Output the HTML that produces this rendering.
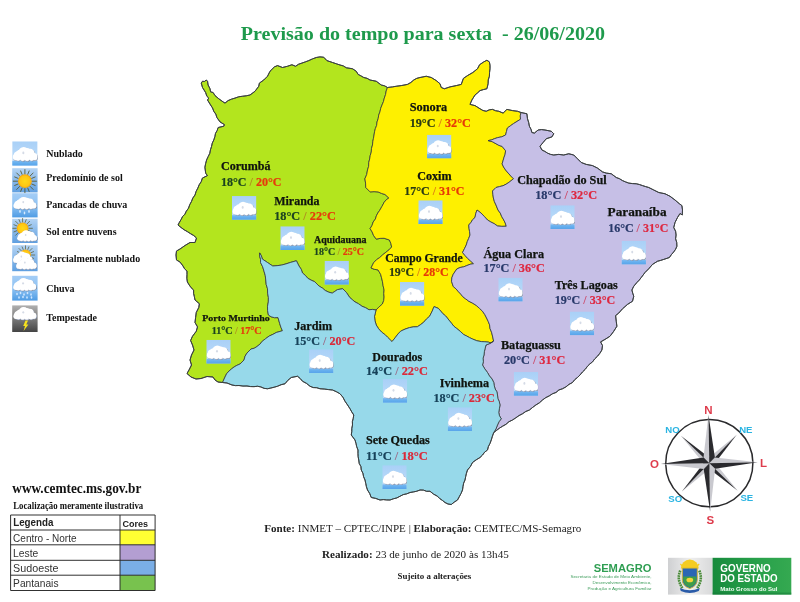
<!DOCTYPE html>
<html lang="pt-BR"><head><meta charset="utf-8"><title>Previsão do tempo</title>
<style>
html,body{margin:0;padding:0;background:#fff;}
body{width:800px;height:602px;position:relative;overflow:hidden;font-family:"Liberation Serif",serif;}
</style></head><body>
<svg width="800" height="602" viewBox="0 0 800 602" style="position:absolute;left:0;top:0;filter:blur(0.4px)">
<defs>
<linearGradient id="sky" x1="0" y1="0" x2="0" y2="1"><stop offset="0" stop-color="#a9d0f7"/><stop offset="0.8" stop-color="#bcdcf9"/><stop offset="1" stop-color="#9ccaf5"/></linearGradient>
<linearGradient id="sky2" x1="0" y1="0" x2="0" y2="1"><stop offset="0" stop-color="#b4d4f4"/><stop offset="1" stop-color="#5f9fe0"/></linearGradient>
<linearGradient id="skyr" x1="0" y1="0" x2="0" y2="1"><stop offset="0" stop-color="#a4cdf6"/><stop offset="0.5" stop-color="#8fc3f3"/><stop offset="1" stop-color="#4f9ce4"/></linearGradient>
<linearGradient id="storm" x1="0" y1="0" x2="0" y2="1"><stop offset="0" stop-color="#b0b0b0"/><stop offset="1" stop-color="#444444"/></linearGradient>
<linearGradient id="gbox" x1="0" y1="0" x2="1" y2="0"><stop offset="0" stop-color="#178a3c"/><stop offset="0.55" stop-color="#27a04a"/><stop offset="1" stop-color="#35a951"/></linearGradient>
<linearGradient id="graybox" x1="0" y1="0" x2="1" y2="0"><stop offset="0" stop-color="#cfd0d2"/><stop offset="0.5" stop-color="#eeeeee"/><stop offset="1" stop-color="#d8d9da"/></linearGradient>
<radialGradient id="sun"><stop offset="0" stop-color="#ffd91a"/><stop offset="0.75" stop-color="#ffc612"/><stop offset="1" stop-color="#f0a010"/></radialGradient>
<g id="cloudshape"><ellipse cx="12.3" cy="15" rx="10.6" ry="3.4"/><circle cx="11.2" cy="11.2" r="5.2"/><circle cx="14.2" cy="11.6" r="4.6"/><circle cx="17.4" cy="12.2" r="4.4"/><circle cx="7.6" cy="12.8" r="4.1"/><circle cx="5.4" cy="14.3" r="4.1"/><circle cx="21.2" cy="15.2" r="3.3"/><circle cx="3.5" cy="15.9" r="3"/><circle cx="5.6" cy="17" r="2.4"/><circle cx="10" cy="17.3" r="2.4"/><circle cx="14.4" cy="17.3" r="2.4"/><circle cx="18.8" cy="17" r="2.4"/><circle cx="22" cy="16.4" r="2.3"/></g>
<g id="cloud"><use href="#cloudshape" x="0.7" y="0.85" fill="#7e889c"/><use href="#cloudshape" x="0.25" y="0.5" fill="#c3ccdd"/><use href="#cloudshape" fill="#ffffff"/><ellipse cx="10.8" cy="11.8" rx="1" ry="1.3" fill="#d5dbe6"/></g>
<g id="rays" stroke="#55562c" stroke-width="0.85">
<line x1="0" y1="-7" x2="0" y2="-12"/><line x1="0" y1="7" x2="0" y2="12"/><line x1="-7" y1="0" x2="-12" y2="0"/><line x1="7" y1="0" x2="12" y2="0"/>
<line x1="4.95" y1="4.95" x2="8.5" y2="8.5"/><line x1="-4.95" y1="4.95" x2="-8.5" y2="8.5"/><line x1="4.95" y1="-4.95" x2="8.5" y2="-8.5"/><line x1="-4.95" y1="-4.95" x2="-8.5" y2="-8.5"/>
<line x1="2.7" y1="-6.5" x2="4.4" y2="-10.6"/><line x1="-2.7" y1="-6.5" x2="-4.4" y2="-10.6"/><line x1="2.7" y1="6.5" x2="4.4" y2="10.6"/><line x1="-2.7" y1="6.5" x2="-4.4" y2="10.6"/>
<line x1="6.5" y1="-2.7" x2="10.6" y2="-4.4"/><line x1="-6.5" y1="-2.7" x2="-10.6" y2="-4.4"/><line x1="6.5" y1="2.7" x2="10.6" y2="4.4"/><line x1="-6.5" y1="2.7" x2="-10.6" y2="4.4"/>
</g>
<clipPath id="icl"><rect width="24.4" height="23.8"/></clipPath><linearGradient id="band" x1="0" y1="0" x2="0" y2="1"><stop offset="0" stop-color="#7cbaf2"/><stop offset="0.5" stop-color="#64aeee"/><stop offset="1" stop-color="#58a4ea"/></linearGradient><g id="nub" clip-path="url(#icl)"><rect width="24.4" height="23.8" fill="url(#sky)"/><rect y="19.1" width="24.4" height="4.7" fill="url(#band)"/><g transform="translate(0.05,-0.36) scale(0.985,0.993)"><use href="#cloud"/></g></g>
</defs>
<rect width="800" height="602" fill="#ffffff"/>
<polygon points="222.5,382.5 218,382 215,380 213,377 207,376.5 201,378.5 196,379 191,377 187,373.5 189,370 191.5,365 190,360 191.5,355 194,350 192.5,345 190.6,340.5 192.5,336.25 196.25,331.25 197.5,326.9 195,322.5 195.6,317.5 196.25,312.5 198.75,307.5 199.4,303.75 195,300 194.36,296.69 193.58,293.4 193.6,290 191.1,287.67 189.16,284.9 187.4,282 186.83,278.35 186.98,274.67 187,271 184.59,268.83 183,266 180,262 176.5,260 176,255 176.5,251 180,249 185,245.5 190,242.5 195,242.5 196.5,238 193.74,235.56 190.57,233.7 187.5,231.7 184.11,229.78 181.01,227.46 178,225 179.51,222.16 181.17,219.42 182.59,216.54 184.93,214.2 186.25,211.25 188.48,208.26 189.72,204.73 191.48,201.49 192.85,198.03 195,195 196.08,191.44 197.8,188.17 199.2,184.76 201.25,181.63 202.4,178.1 207.4,175.6 205.7,173.2 204.9,167.3 205.64,163.59 206.6,159.95 208.2,156.5 209.77,153.36 210.43,149.91 211.5,146.6 212.27,143.14 213.81,139.95 214.9,136.6 215.51,133.39 217.13,130.54 218.2,127.5 223.75,126.25 224.4,124.6 220,121.9 216.9,117.5 215.8,114.14 213.75,111.25 212.53,107.95 210.6,105 207.5,100 208.75,98.1 206.9,96.25 205.6,92.5 202.5,87.5 201.25,83.1 202.5,81.25 204.4,81.5 206.25,80 207.5,81.25 208.1,85 210,88.75 210.6,91.9 213.1,92.5 215,95.6 218.75,98.75 223.1,101.9 225,103.1 228.1,100.6 231.48,99.17 235,98.1 238.66,96.8 242.5,96.25 246.28,95.79 250,95 255,91.25 258.75,86.25 259.4,83.1 263.75,80 267.5,76.25 270,71.25 274.4,66.9 277.5,65.6 282.5,67.5 287.5,66.25 291.9,64.75 295.6,66.25 298.54,64.25 301.9,63.1 305.34,61.89 308.75,60.6 312.44,58.91 316.25,57.5 319.98,56.89 323.75,57.25 326.9,60.6 332.5,62.5 336.25,63.76 340,65 343.33,65.91 346.25,67.75 352.5,68.75 356.25,71.25 358.1,74.4 360.96,75.89 363.75,77.5 367.05,78.31 370,80 376.25,81.25 381.25,85 384.54,85.83 387.5,87.5 386.19,90.94 385.55,94.58 384.34,98.04 383.45,101.61 382,105 380.71,108.32 379.97,111.79 378.71,115.11 378.18,118.65 377,122 376.66,125.34 375.38,128.51 374.55,131.75 374.05,135.07 373.46,138.36 372.8,141.65 372.5,145 371.49,148.44 371.29,152.06 370.23,155.5 369.66,159.03 368.75,162.5 368.64,166.34 367.5,170 366.7,174.52 364.9,178.75 365.57,183.1 365.75,187.5 370.1,191.9 374.05,191.64 378,191.9 381.43,193.4 385,194.5 388.85,198 386.13,199.83 384.1,202.4 381.98,206.35 379.75,210.25 377.87,212.95 376.37,215.84 375.4,219 373.2,221.96 372,225.47 370.1,228.6 372.13,231.96 373.6,235.6 376.25,239.1 380.14,238.38 384.1,238.25 389.4,240 390.84,243.4 391.65,247 388.99,249.87 385.9,252.25 382.74,254.77 379.75,257.5 376.39,259.79 373.6,262.75 371,268 374.4,269.31 378,269.9 380.6,274.25 381.52,277.74 382.4,281.25 383.08,285.66 384.1,290 383.77,293.5 384.1,297 383.69,300.61 382.4,304 379.08,306.87 376,310 372.52,309.42 369,309.75 365.64,307.72 362,306.25 358.65,303.84 355,301.9 352.36,299.72 349.75,297.5 346.25,292.25 342.75,288.75 337.5,289.6 332.25,293.1 328.63,292.13 325.25,290.5 322.36,288.04 319.1,286.1 314.75,281.75 311.17,280.16 307.75,278.25 305.36,275.39 302.5,273 301.21,269.27 299,266 296.4,260.75 290.25,262.5 285.91,263.91 281.5,265.1 277.14,265.66 272.75,266 267.5,262.5 262.25,259 261.38,255.75 259.6,252.9 259.65,256.12 260.56,259.27 260.5,262.5 262.63,266.72 264,271.25 265.25,275.55 265.75,280 266.19,284.46 267.5,288.75 267.61,293.16 268.4,297.5 268.34,301.91 267.5,306.25 267.59,310.66 268.4,315 271,316.75 274.44,317.7 278,317.6 279.75,323.75 280.91,327.31 282.4,330.75 276.25,332.5 272.82,334.4 269.25,336 265.72,338.58 262.25,341.25 259.91,344.16 257,346.5 254.21,348.24 251,349 247,353 245.02,356.3 244,360 240,364 236.93,365.35 234,367 231.48,368.98 229,371 226.6,373.74 225,377" fill="#b3e51e" stroke="#34393a" stroke-width="0.8" stroke-linejoin="round"/>
<polygon points="387.5,87.5 392.5,86.9 396.86,86.17 401.25,85.6 407.5,84.4 410.83,82.49 413.75,80 416.72,78.37 420,77.5 426.25,76.25 431.25,77.5 436.25,80.6 440,83.75 441.25,87.5 444.4,88.75 450,86.9 456.25,85.6 461.25,84.4 463.4,78.4 467.5,75.6 472.8,72.5 477.5,68.75 479.6,64.7 483.75,61.9 486.9,60.25 489.4,61.9 490,65.3 490,68.75 489.56,72.49 489.4,76.25 488.26,79.92 488.1,83.75 486.9,88.75 483.43,89.59 480,90.6 477.58,92.89 475,95 471.9,100 470,104.4 475,105.6 480,108.75 482.93,110.49 486.25,111.25 489.23,109.85 492.5,109.4 495.51,110.7 498.75,111.25 503.1,113.1 506.9,109.4 512.5,110.6 517.5,111.25 521,112.5 520.29,115.84 520.5,119.25 517,121.42 513.5,123.6 510.43,125.77 507.4,128 506.47,131.49 505.6,135 501.84,136.8 497.75,137.6 494.55,138.66 491.42,139.93 488.1,140.6 492.25,141.67 496,143.75 498.92,145.38 502.1,146.4 505.6,150.75 505.1,154.34 503.9,157.75 503.03,160.83 502.1,163.9 503.64,167.07 505.6,170 508.2,173.09 510.9,176.1 513.5,178.75 509.1,182.25 506.15,184.17 503,185.75 499.5,186.61 496,187.5 492.5,191 492.89,194.51 493.4,198 494.41,201.61 496,205 498,210 500.29,213.12 501.78,216.7 503.75,220 505.26,223.02 506.25,226.25 501.87,226.37 497.5,226 494.32,223.74 490.84,221.99 487.5,220 484.3,216.45 481,213 477,210 475.72,213.68 475,217.5 472.57,219.71 470.88,222.54 468.75,225 469.04,228.35 469.58,231.67 470,235 468.74,238.33 467.3,241.59 466.25,245 464.42,248.77 462.5,252.5 464.97,255.42 467.5,258.3 470.52,260.98 473.5,263.7 470.1,264.27 466.93,265.56 463.75,266.8 460.13,267.5 456.75,269 453.25,274.25 451.9,277.63 451.5,281.25 453.25,286.5 456.06,288.94 458.5,291.75 460.79,294.13 462.82,296.76 465.5,298.75 468.8,301.24 472.5,303.1 476.24,305.43 479.5,308.4 482.44,311.18 484.75,314.5 486.56,317.97 488.25,321.5 489.58,324.89 490,328.5 491.52,332.16 492.5,336 493.6,341 491,343 488.25,342.1 484.76,341.76 481.25,341.6 476.75,340.73 472.5,339 469.54,337.62 466.69,336.03 463.75,334.6 460.36,331.43 456.75,328.5 453.81,326.19 451.5,323.25 448,318.9 445.66,315.96 442.75,313.6 440.64,310.94 438.4,308.4 434,306.6 432.25,311 429.6,316.25 426.36,319.14 423.5,322.4 420.51,324.65 417.4,326.75 413.42,326.89 409.5,327.6 405.04,329.14 400.75,331.1 397.92,334 395.5,337.25 392,341.6 387.6,337.25 384.76,334.38 381.5,332 378.59,328.72 376.25,325 374.97,320.71 374.5,316.25 375.32,313.14 376,310 379.08,306.87 382.4,304 383.69,300.61 384.1,297 383.77,293.5 384.1,290 383.08,285.66 382.4,281.25 381.52,277.74 380.6,274.25 378,269.9 374.4,269.31 371,268 373.6,262.75 376.39,259.79 379.75,257.5 382.74,254.77 385.9,252.25 388.99,249.87 391.65,247 390.84,243.4 389.4,240 384.1,238.25 380.14,238.38 376.25,239.1 373.6,235.6 372.13,231.96 370.1,228.6 372,225.47 373.2,221.96 375.4,219 376.37,215.84 377.87,212.95 379.75,210.25 381.98,206.35 384.1,202.4 386.13,199.83 388.85,198 385,194.5 381.43,193.4 378,191.9 374.05,191.64 370.1,191.9 365.75,187.5 365.57,183.1 364.9,178.75 366.7,174.52 367.5,170 368.64,166.34 368.75,162.5 369.66,159.03 370.23,155.5 371.29,152.06 371.49,148.44 372.5,145 372.8,141.65 373.46,138.36 374.05,135.07 374.55,131.75 375.38,128.51 376.66,125.34 377,122 378.18,118.65 378.71,115.11 379.97,111.79 380.71,108.32 382,105 383.45,101.61 384.34,98.04 385.55,94.58 386.19,90.94" fill="#fef000" stroke="#34393a" stroke-width="0.8" stroke-linejoin="round"/>
<polygon points="521,112.5 526.9,113.75 527.5,118.75 528.67,122.44 529.4,126.25 531.01,129.23 531.9,132.5 534.4,133.1 538.1,130 541.55,129.58 545,130 551.25,131.25 553.75,133.75 551.9,136.9 546.25,138.75 543.1,142.5 540,146.25 541.9,150 544.8,151.37 547.5,153.1 550.52,154.38 553.75,155 558.75,154.4 563.75,155 568.75,153.75 573.75,155 577.5,158.75 581.25,162.5 586.25,164.4 592.5,165.6 597.5,168.1 602.5,171.9 606.25,173.1 611.25,173.75 616.25,177.5 619.53,178.74 622.5,180.6 625.59,181.93 628.75,183.1 632.49,183.58 636.25,183.75 639.41,184.54 642.5,185.6 645.61,186.6 648.75,187.5 653.75,190 658.75,192.5 665,193.75 670,196.25 675,200 679.4,203.75 681.9,205.6 682.5,210 682.25,215 680,213.5 677.5,217.5 675,222.5 673.75,227.5 675.6,231.25 676.08,235 675.6,238.75 676.73,242.42 676.9,246.25 675.61,249.23 673.75,251.9 671.42,254.58 669.4,257.5 663.75,259.4 660.65,260.4 657.5,261.25 652.5,264.4 648.75,268.75 645,272.5 641.25,277.5 639.23,280.13 636.9,282.5 633.75,286.25 631.9,290 632.73,293.15 633.75,296.25 632.5,301.25 627.5,304.4 625.03,306.61 622.5,308.75 618.75,313.1 615.6,315.6 616.25,321.25 616.9,326.25 613.75,331.25 610,336.25 605,339.4 600.6,341.9 602.5,345.6 601.9,350 599.88,353.25 597.5,356.25 594.76,358.86 592.5,361.9 589.86,363.91 587.5,366.25 585.21,369.35 582.44,372.03 580,375 577.48,377.48 574.71,379.71 572.5,382.5 569.03,384.37 565.96,386.86 562.5,388.75 558.93,389.94 556.02,392.46 552.5,393.75 549.21,395.91 545.68,397.68 542.5,400 539.4,402.81 535.84,405.01 532.5,407.5 529.44,410.01 525.74,411.51 522.5,413.75 519.01,415.59 515.79,417.85 512.5,420 508.95,421.73 505.94,424.34 502.5,426.25 499.46,428.16 496.61,430.33 493.75,432.5 495.96,428.92 497.5,425 499.06,421.69 501.25,418.75 499.5,415.83 498.75,412.5 499.39,408.75 500,405 499.28,401.64 497.85,398.45 497.5,395 496.86,391.79 495.13,388.9 494.28,385.75 493.75,382.5 492,378.96 489.43,375.93 487.5,372.5 484.8,368.88 482.5,365 483.38,361.72 483.07,358.27 484,355 484.36,351.61 485.15,348.3 486,345 490.02,343.42 493.6,341 492.5,336 491.52,332.16 490,328.5 489.58,324.89 488.25,321.5 486.56,317.97 484.75,314.5 482.44,311.18 479.5,308.4 476.24,305.43 472.5,303.1 468.8,301.24 465.5,298.75 462.82,296.76 460.79,294.13 458.5,291.75 456.06,288.94 453.25,286.5 451.5,281.25 451.9,277.63 453.25,274.25 456.75,269 460.13,267.5 463.75,266.8 466.93,265.56 470.1,264.27 473.5,263.7 470.52,260.98 467.5,258.3 464.97,255.42 462.5,252.5 464.42,248.77 466.25,245 467.3,241.59 468.74,238.33 470,235 469.58,231.67 469.04,228.35 468.75,225 470.88,222.54 472.57,219.71 475,217.5 475.72,213.68 477,210 481,213 484.3,216.45 487.5,220 490.84,221.99 494.32,223.74 497.5,226 501.87,226.37 506.25,226.25 505.26,223.02 503.75,220 501.78,216.7 500.29,213.12 498,210 496,205 494.41,201.61 493.4,198 492.89,194.51 492.5,191 496,187.5 499.5,186.61 503,185.75 506.15,184.17 509.1,182.25 513.5,178.75 510.9,176.1 508.2,173.09 505.6,170 503.64,167.07 502.1,163.9 503.03,160.83 503.9,157.75 505.1,154.34 505.6,150.75 502.1,146.4 498.92,145.38 496,143.75 492.25,141.67 488.1,140.6 491.42,139.93 494.55,138.66 497.75,137.6 501.84,136.8 505.6,135 506.47,131.49 507.4,128 510.43,125.77 513.5,123.6 517,121.42 520.5,119.25 520.29,115.84" fill="#c6bfe6" stroke="#34393a" stroke-width="0.8" stroke-linejoin="round"/>
<polygon points="493.75,432.5 492.42,436.22 491.25,440 490.05,443.35 488.4,446.54 487.5,450 484.65,452.15 482.52,455.02 480,457.5 476.15,459.85 472.5,462.5 470.4,466.52 467.5,470 466.45,473.28 465.68,476.63 465,480 463.64,483.2 462.99,486.58 462.5,490 461.05,493.44 459.28,496.72 457.5,500 454.27,502.1 451.25,504.5 447.96,504 445,502.5 442.47,500.45 439.77,498.61 437.5,496.25 433.52,494.1 430,491.25 426.61,491.31 423.37,490.12 420,490 416.77,491.23 413.4,491.94 410,492.5 406.71,493.86 403.19,494.62 400,496.25 396.83,497.93 393.35,498.8 390,500 386.67,499.95 383.33,499.58 380,500 375.72,498.41 371.25,497.5 369.73,493.57 367.5,490 366.43,486.73 365.74,483.36 365,480 363.6,476.72 362.9,473.18 361.25,470 360.91,466.54 359.21,463.43 358.75,460 358.14,456.69 357.96,453.36 358,450 356.72,446.75 355.98,443.34 355,440 351.25,435 351.76,431.68 351.82,428.3 352.5,425 352.38,421.6 353.24,418.32 353.75,415 351.75,411.95 350,408.75 347.56,404.96 345,401.25 342.91,397.22 340,393.75 336.34,391.69 332.5,390 328.34,389.57 324.18,389.04 320,388.75 316.71,387.73 313.21,387.56 310,386.25 306.49,383.38 302.5,381.25 300.22,378.53 297.5,376.25 291.25,377.5 287.83,380.33 285,383.75 281.15,384.69 277.5,386.25 274.2,387.2 270.86,388.02 267.5,388.75 264.06,388.34 260.87,386.94 257.5,386.25 253.99,386.65 250.49,386.56 247,386 242.98,386.07 239,385.5 235.47,385.62 232,385 227,383 222.5,382.5 225,377 226.6,373.74 229,371 231.48,368.98 234,367 236.93,365.35 240,364 244,360 245.02,356.3 247,353 251,349 254.21,348.24 257,346.5 259.91,344.16 262.25,341.25 265.72,338.58 269.25,336 272.82,334.4 276.25,332.5 282.4,330.75 280.91,327.31 279.75,323.75 278,317.6 274.44,317.7 271,316.75 268.4,315 267.59,310.66 267.5,306.25 268.34,301.91 268.4,297.5 267.61,293.16 267.5,288.75 266.19,284.46 265.75,280 265.25,275.55 264,271.25 262.63,266.72 260.5,262.5 260.56,259.27 259.65,256.12 259.6,252.9 261.38,255.75 262.25,259 267.5,262.5 272.75,266 277.14,265.66 281.5,265.1 285.91,263.91 290.25,262.5 296.4,260.75 299,266 301.21,269.27 302.5,273 305.36,275.39 307.75,278.25 311.17,280.16 314.75,281.75 319.1,286.1 322.36,288.04 325.25,290.5 328.63,292.13 332.25,293.1 337.5,289.6 342.75,288.75 346.25,292.25 349.75,297.5 352.36,299.72 355,301.9 358.65,303.84 362,306.25 365.64,307.72 369,309.75 372.52,309.42 376,310 375.32,313.14 374.5,316.25 374.97,320.71 376.25,325 378.59,328.72 381.5,332 384.76,334.38 387.6,337.25 392,341.6 395.5,337.25 397.92,334 400.75,331.1 405.04,329.14 409.5,327.6 413.42,326.89 417.4,326.75 420.51,324.65 423.5,322.4 426.36,319.14 429.6,316.25 432.25,311 434,306.6 438.4,308.4 440.64,310.94 442.75,313.6 445.66,315.96 448,318.9 451.5,323.25 453.81,326.19 456.75,328.5 460.36,331.43 463.75,334.6 466.69,336.03 469.54,337.62 472.5,339 476.75,340.73 481.25,341.6 484.76,341.76 488.25,342.1 491,343 493.6,341 490.02,343.42 486,345 485.15,348.3 484.36,351.61 484,355 483.07,358.27 483.38,361.72 482.5,365 484.8,368.88 487.5,372.5 489.43,375.93 492,378.96 493.75,382.5 494.28,385.75 495.13,388.9 496.86,391.79 497.5,395 497.85,398.45 499.28,401.64 500,405 499.39,408.75 498.75,412.5 499.5,415.83 501.25,418.75 499.06,421.69 497.5,425 495.96,428.92" fill="#97d9ea" stroke="#34393a" stroke-width="0.8" stroke-linejoin="round"/>
<polygon points="201.25,83.1 202.5,81.25 204.4,81.5 206.25,80 207.5,81.25 208.1,85 210,88.75 210.6,91.9 213.1,92.5 215,95.6 218.75,98.75 223.1,101.9 225,103.1 228.1,100.6 231.48,99.17 235,98.1 238.66,96.8 242.5,96.25 246.28,95.79 250,95 255,91.25 258.75,86.25 259.4,83.1 263.75,80 267.5,76.25 270,71.25 274.4,66.9 277.5,65.6 282.5,67.5 287.5,66.25 291.9,64.75 295.6,66.25 298.54,64.25 301.9,63.1 305.34,61.89 308.75,60.6 312.44,58.91 316.25,57.5 319.98,56.89 323.75,57.25 326.9,60.6 332.5,62.5 336.25,63.76 340,65 343.33,65.91 346.25,67.75 352.5,68.75 356.25,71.25 358.1,74.4 360.96,75.89 363.75,77.5 367.05,78.31 370,80 376.25,81.25 381.25,85 384.54,85.83 387.5,87.5 392.5,86.9 396.86,86.17 401.25,85.6 407.5,84.4 410.83,82.49 413.75,80 416.72,78.37 420,77.5 426.25,76.25 431.25,77.5 436.25,80.6 440,83.75 441.25,87.5 444.4,88.75 450,86.9 456.25,85.6 461.25,84.4 463.4,78.4 467.5,75.6 472.8,72.5 477.5,68.75 479.6,64.7 483.75,61.9 486.9,60.25 489.4,61.9 490,65.3 490,68.75 489.56,72.49 489.4,76.25 488.26,79.92 488.1,83.75 486.9,88.75 483.43,89.59 480,90.6 477.58,92.89 475,95 471.9,100 470,104.4 475,105.6 480,108.75 482.93,110.49 486.25,111.25 489.23,109.85 492.5,109.4 495.51,110.7 498.75,111.25 503.1,113.1 506.9,109.4 512.5,110.6 517.5,111.25 521,112.5 526.9,113.75 527.5,118.75 528.67,122.44 529.4,126.25 531.01,129.23 531.9,132.5 534.4,133.1 538.1,130 541.55,129.58 545,130 551.25,131.25 553.75,133.75 551.9,136.9 546.25,138.75 543.1,142.5 540,146.25 541.9,150 544.8,151.37 547.5,153.1 550.52,154.38 553.75,155 558.75,154.4 563.75,155 568.75,153.75 573.75,155 577.5,158.75 581.25,162.5 586.25,164.4 592.5,165.6 597.5,168.1 602.5,171.9 606.25,173.1 611.25,173.75 616.25,177.5 619.53,178.74 622.5,180.6 625.59,181.93 628.75,183.1 632.49,183.58 636.25,183.75 639.41,184.54 642.5,185.6 645.61,186.6 648.75,187.5 653.75,190 658.75,192.5 665,193.75 670,196.25 675,200 679.4,203.75 681.9,205.6 682.5,210 682.25,215 680,213.5 677.5,217.5 675,222.5 673.75,227.5 675.6,231.25 676.08,235 675.6,238.75 676.73,242.42 676.9,246.25 675.61,249.23 673.75,251.9 671.42,254.58 669.4,257.5 663.75,259.4 660.65,260.4 657.5,261.25 652.5,264.4 648.75,268.75 645,272.5 641.25,277.5 639.23,280.13 636.9,282.5 633.75,286.25 631.9,290 632.73,293.15 633.75,296.25 632.5,301.25 627.5,304.4 625.03,306.61 622.5,308.75 618.75,313.1 615.6,315.6 616.25,321.25 616.9,326.25 613.75,331.25 610,336.25 605,339.4 600.6,341.9 602.5,345.6 601.9,350 599.88,353.25 597.5,356.25 594.76,358.86 592.5,361.9 589.86,363.91 587.5,366.25 585.21,369.35 582.44,372.03 580,375 577.48,377.48 574.71,379.71 572.5,382.5 569.03,384.37 565.96,386.86 562.5,388.75 558.93,389.94 556.02,392.46 552.5,393.75 549.21,395.91 545.68,397.68 542.5,400 539.4,402.81 535.84,405.01 532.5,407.5 529.44,410.01 525.74,411.51 522.5,413.75 519.01,415.59 515.79,417.85 512.5,420 508.95,421.73 505.94,424.34 502.5,426.25 499.46,428.16 496.61,430.33 493.75,432.5 492.42,436.22 491.25,440 490.05,443.35 488.4,446.54 487.5,450 484.65,452.15 482.52,455.02 480,457.5 476.15,459.85 472.5,462.5 470.4,466.52 467.5,470 466.45,473.28 465.68,476.63 465,480 463.64,483.2 462.99,486.58 462.5,490 461.05,493.44 459.28,496.72 457.5,500 454.27,502.1 451.25,504.5 447.96,504 445,502.5 442.47,500.45 439.77,498.61 437.5,496.25 433.52,494.1 430,491.25 426.61,491.31 423.37,490.12 420,490 416.77,491.23 413.4,491.94 410,492.5 406.71,493.86 403.19,494.62 400,496.25 396.83,497.93 393.35,498.8 390,500 386.67,499.95 383.33,499.58 380,500 375.72,498.41 371.25,497.5 369.73,493.57 367.5,490 366.43,486.73 365.74,483.36 365,480 363.6,476.72 362.9,473.18 361.25,470 360.91,466.54 359.21,463.43 358.75,460 358.14,456.69 357.96,453.36 358,450 356.72,446.75 355.98,443.34 355,440 351.25,435 351.76,431.68 351.82,428.3 352.5,425 352.38,421.6 353.24,418.32 353.75,415 351.75,411.95 350,408.75 347.56,404.96 345,401.25 342.91,397.22 340,393.75 336.34,391.69 332.5,390 328.34,389.57 324.18,389.04 320,388.75 316.71,387.73 313.21,387.56 310,386.25 306.49,383.38 302.5,381.25 300.22,378.53 297.5,376.25 291.25,377.5 287.83,380.33 285,383.75 281.15,384.69 277.5,386.25 274.2,387.2 270.86,388.02 267.5,388.75 264.06,388.34 260.87,386.94 257.5,386.25 253.99,386.65 250.49,386.56 247,386 242.98,386.07 239,385.5 235.47,385.62 232,385 227,383 222.5,382.5 218,382 215,380 213,377 207,376.5 201,378.5 196,379 191,377 187,373.5 189,370 191.5,365 190,360 191.5,355 194,350 192.5,345 190.6,340.5 192.5,336.25 196.25,331.25 197.5,326.9 195,322.5 195.6,317.5 196.25,312.5 198.75,307.5 199.4,303.75 195,300 194.36,296.69 193.58,293.4 193.6,290 191.1,287.67 189.16,284.9 187.4,282 186.83,278.35 186.98,274.67 187,271 184.59,268.83 183,266 180,262 176.5,260 176,255 176.5,251 180,249 185,245.5 190,242.5 195,242.5 196.5,238 193.74,235.56 190.57,233.7 187.5,231.7 184.11,229.78 181.01,227.46 178,225 179.51,222.16 181.17,219.42 182.59,216.54 184.93,214.2 186.25,211.25 188.48,208.26 189.72,204.73 191.48,201.49 192.85,198.03 195,195 196.08,191.44 197.8,188.17 199.2,184.76 201.25,181.63 202.4,178.1 207.4,175.6 205.7,173.2 204.9,167.3 205.64,163.59 206.6,159.95 208.2,156.5 209.77,153.36 210.43,149.91 211.5,146.6 212.27,143.14 213.81,139.95 214.9,136.6 215.51,133.39 217.13,130.54 218.2,127.5 223.75,126.25 224.4,124.6 220,121.9 216.9,117.5 215.8,114.14 213.75,111.25 212.53,107.95 210.6,105 207.5,100 208.75,98.1 206.9,96.25 205.6,92.5 202.5,87.5" fill="none" stroke="#3a3f40" stroke-width="1.0" stroke-linejoin="round"/>
<text x="240.8" y="40.3" font-family="Liberation Serif, serif" font-weight="bold" font-size="19.7" fill="#1e9a4c" textLength="364.2" lengthAdjust="spacingAndGlyphs" xml:space="preserve">Previsão do tempo para sexta  - 26/06/2020</text>
<text x="409.7" y="111.4" font-family="Liberation Serif, serif" font-weight="bold" font-size="12" fill="#10140f" stroke="#10140f" stroke-width="0.25" textLength="37.6" lengthAdjust="spacingAndGlyphs">Sonora</text>
<text x="409.7" y="126.6" font-family="Liberation Serif, serif" font-weight="bold" font-size="12" fill="#2a3a14" stroke="#2a3a14" stroke-width="0.22" textLength="61.1" lengthAdjust="spacingAndGlyphs">19°C <tspan fill="#dc7a14" stroke="none">/</tspan><tspan fill="#e63808" stroke="#e63808"> 32°C</tspan></text>
<use href="#nub" x="427.05" y="134.65"/>
<text x="417.2" y="179.9" font-family="Liberation Serif, serif" font-weight="bold" font-size="12" fill="#10140f" stroke="#10140f" stroke-width="0.25" textLength="34.35" lengthAdjust="spacingAndGlyphs">Coxim</text>
<text x="404.2" y="195.25" font-family="Liberation Serif, serif" font-weight="bold" font-size="12" fill="#2a3a14" stroke="#2a3a14" stroke-width="0.22" textLength="60.35" lengthAdjust="spacingAndGlyphs">17°C <tspan fill="#dc7a14" stroke="none">/</tspan><tspan fill="#e63808" stroke="#e63808"> 31°C</tspan></text>
<use href="#nub" x="418.3" y="200.25"/>
<text x="517.2" y="183.8" font-family="Liberation Serif, serif" font-weight="bold" font-size="12" fill="#10140f" stroke="#10140f" stroke-width="0.25" textLength="89.35" lengthAdjust="spacingAndGlyphs">Chapadão do Sul</text>
<text x="535.2" y="199.1" font-family="Liberation Serif, serif" font-weight="bold" font-size="12" fill="#28396a" stroke="#28396a" stroke-width="0.22" textLength="61.85" lengthAdjust="spacingAndGlyphs">18°C <tspan fill="#cc4a6a" stroke="none">/</tspan><tspan fill="#de2840" stroke="#de2840"> 32°C</tspan></text>
<use href="#nub" x="550.3" y="205.25"/>
<text x="607.6" y="216.1" font-family="Liberation Serif, serif" font-weight="bold" font-size="12.2" fill="#10140f" stroke="#10140f" stroke-width="0.25" textLength="58.95" lengthAdjust="spacingAndGlyphs">Paranaíba</text>
<text x="608.2" y="231.9" font-family="Liberation Serif, serif" font-weight="bold" font-size="12" fill="#28396a" stroke="#28396a" stroke-width="0.22" textLength="60.1" lengthAdjust="spacingAndGlyphs">16°C <tspan fill="#cc4a6a" stroke="none">/</tspan><tspan fill="#de2840" stroke="#de2840"> 31°C</tspan></text>
<use href="#nub" x="621.55" y="240.75"/>
<text x="220.95" y="170.4" font-family="Liberation Serif, serif" font-weight="bold" font-size="12" fill="#10140f" stroke="#10140f" stroke-width="0.25" textLength="49.65" lengthAdjust="spacingAndGlyphs">Corumbá</text>
<text x="220.95" y="185.7" font-family="Liberation Serif, serif" font-weight="bold" font-size="12" fill="#1c4420" stroke="#1c4420" stroke-width="0.22" textLength="60.6" lengthAdjust="spacingAndGlyphs">18°C <tspan fill="#b08a20" stroke="none">/</tspan><tspan fill="#e63a0c" stroke="#e63a0c"> 20°C</tspan></text>
<use href="#nub" x="232" y="196.05"/>
<text x="274.2" y="205.2" font-family="Liberation Serif, serif" font-weight="bold" font-size="12" fill="#10140f" stroke="#10140f" stroke-width="0.25" textLength="45.35" lengthAdjust="spacingAndGlyphs">Miranda</text>
<text x="274.2" y="220.1" font-family="Liberation Serif, serif" font-weight="bold" font-size="12" fill="#1c4420" stroke="#1c4420" stroke-width="0.22" textLength="61.6" lengthAdjust="spacingAndGlyphs">18°C <tspan fill="#b08a20" stroke="none">/</tspan><tspan fill="#e63a0c" stroke="#e63a0c"> 22°C</tspan></text>
<use href="#nub" x="280.3" y="226.25"/>
<text x="313.95" y="243.2" font-family="Liberation Serif, serif" font-weight="bold" font-size="9.5" fill="#10140f" stroke="#10140f" stroke-width="0.25" textLength="52.6" lengthAdjust="spacingAndGlyphs">Aquidauana</text>
<text x="313.95" y="254.8" font-family="Liberation Serif, serif" font-weight="bold" font-size="9.6" fill="#1c4420" stroke="#1c4420" stroke-width="0.22" textLength="50.1" lengthAdjust="spacingAndGlyphs">18°C <tspan fill="#b08a20" stroke="none">/</tspan><tspan fill="#e63a0c" stroke="#e63a0c"> 25°C</tspan></text>
<use href="#nub" x="324.5" y="260.85"/>
<text x="385.2" y="261.8" font-family="Liberation Serif, serif" font-weight="bold" font-size="12" fill="#10140f" stroke="#10140f" stroke-width="0.25" textLength="77.6" lengthAdjust="spacingAndGlyphs">Campo Grande</text>
<text x="388.9" y="275.9" font-family="Liberation Serif, serif" font-weight="bold" font-size="12" fill="#2a3a14" stroke="#2a3a14" stroke-width="0.22" textLength="59.6" lengthAdjust="spacingAndGlyphs">19°C <tspan fill="#dc7a14" stroke="none">/</tspan><tspan fill="#e63808" stroke="#e63808"> 28°C</tspan></text>
<use href="#nub" x="400" y="282.05"/>
<text x="483.45" y="257.5" font-family="Liberation Serif, serif" font-weight="bold" font-size="12" fill="#10140f" stroke="#10140f" stroke-width="0.25" textLength="60.6" lengthAdjust="spacingAndGlyphs">Água Clara</text>
<text x="483.45" y="272" font-family="Liberation Serif, serif" font-weight="bold" font-size="12" fill="#28396a" stroke="#28396a" stroke-width="0.22" textLength="61.35" lengthAdjust="spacingAndGlyphs">17°C <tspan fill="#cc4a6a" stroke="none">/</tspan><tspan fill="#de2840" stroke="#de2840"> 36°C</tspan></text>
<use href="#nub" x="498.3" y="277.75"/>
<text x="554.7" y="289.25" font-family="Liberation Serif, serif" font-weight="bold" font-size="12" fill="#10140f" stroke="#10140f" stroke-width="0.25" textLength="63.1" lengthAdjust="spacingAndGlyphs">Três Lagoas</text>
<text x="554.7" y="304.25" font-family="Liberation Serif, serif" font-weight="bold" font-size="12" fill="#28396a" stroke="#28396a" stroke-width="0.22" textLength="60.6" lengthAdjust="spacingAndGlyphs">19°C <tspan fill="#cc4a6a" stroke="none">/</tspan><tspan fill="#de2840" stroke="#de2840"> 33°C</tspan></text>
<use href="#nub" x="569.8" y="311.5"/>
<text x="202.2" y="320.8" font-family="Liberation Serif, serif" font-weight="bold" font-size="9.1" fill="#10140f" stroke="#10140f" stroke-width="0.25" textLength="67.6" lengthAdjust="spacingAndGlyphs">Porto Murtinho</text>
<text x="211.7" y="333.6" font-family="Liberation Serif, serif" font-weight="bold" font-size="9.3" fill="#1c4420" stroke="#1c4420" stroke-width="0.22" textLength="49.85" lengthAdjust="spacingAndGlyphs">11°C <tspan fill="#b08a20" stroke="none">/</tspan><tspan fill="#e63a0c" stroke="#e63a0c"> 17°C</tspan></text>
<use href="#nub" x="206.3" y="339.85"/>
<text x="294.2" y="330" font-family="Liberation Serif, serif" font-weight="bold" font-size="12" fill="#10140f" stroke="#10140f" stroke-width="0.25" textLength="37.85" lengthAdjust="spacingAndGlyphs">Jardim</text>
<text x="294.2" y="345" font-family="Liberation Serif, serif" font-weight="bold" font-size="12" fill="#17425a" stroke="#17425a" stroke-width="0.22" textLength="61.1" lengthAdjust="spacingAndGlyphs">15°C <tspan fill="#9a6a86" stroke="none">/</tspan><tspan fill="#da2a3a" stroke="#da2a3a"> 20°C</tspan></text>
<use href="#nub" x="309.05" y="349.25"/>
<text x="372.3" y="360.5" font-family="Liberation Serif, serif" font-weight="bold" font-size="12" fill="#10140f" stroke="#10140f" stroke-width="0.25" textLength="50" lengthAdjust="spacingAndGlyphs">Dourados</text>
<text x="365.95" y="375" font-family="Liberation Serif, serif" font-weight="bold" font-size="12" fill="#17425a" stroke="#17425a" stroke-width="0.22" textLength="61.85" lengthAdjust="spacingAndGlyphs">14°C <tspan fill="#9a6a86" stroke="none">/</tspan><tspan fill="#da2a3a" stroke="#da2a3a"> 22°C</tspan></text>
<use href="#nub" x="382.8" y="379"/>
<text x="439.7" y="386.75" font-family="Liberation Serif, serif" font-weight="bold" font-size="12" fill="#10140f" stroke="#10140f" stroke-width="0.25" textLength="49.35" lengthAdjust="spacingAndGlyphs">Ivinhema</text>
<text x="433.45" y="401.75" font-family="Liberation Serif, serif" font-weight="bold" font-size="12" fill="#17425a" stroke="#17425a" stroke-width="0.22" textLength="61.35" lengthAdjust="spacingAndGlyphs">18°C <tspan fill="#9a6a86" stroke="none">/</tspan><tspan fill="#da2a3a" stroke="#da2a3a"> 23°C</tspan></text>
<use href="#nub" x="447.7" y="407.25"/>
<text x="500.95" y="348.5" font-family="Liberation Serif, serif" font-weight="bold" font-size="12" fill="#10140f" stroke="#10140f" stroke-width="0.25" textLength="59.85" lengthAdjust="spacingAndGlyphs">Bataguassu</text>
<text x="503.95" y="363.8" font-family="Liberation Serif, serif" font-weight="bold" font-size="12" fill="#28396a" stroke="#28396a" stroke-width="0.22" textLength="61.35" lengthAdjust="spacingAndGlyphs">20°C <tspan fill="#cc4a6a" stroke="none">/</tspan><tspan fill="#de2840" stroke="#de2840"> 31°C</tspan></text>
<use href="#nub" x="513.7" y="372.05"/>
<text x="365.95" y="444.25" font-family="Liberation Serif, serif" font-weight="bold" font-size="12" fill="#10140f" stroke="#10140f" stroke-width="0.25" textLength="63.85" lengthAdjust="spacingAndGlyphs">Sete Quedas</text>
<text x="365.95" y="459.5" font-family="Liberation Serif, serif" font-weight="bold" font-size="12" fill="#17425a" stroke="#17425a" stroke-width="0.22" textLength="61.85" lengthAdjust="spacingAndGlyphs">11°C <tspan fill="#9a6a86" stroke="none">/</tspan><tspan fill="#da2a3a" stroke="#da2a3a"> 18°C</tspan></text>
<use href="#nub" x="382.3" y="465.25"/>
<g transform="translate(12.2,141.3) scale(1.041,1.025)"><use href="#nub"/></g>
<rect x="12.2" y="168.2" width="25.4" height="24.2" fill="url(#sky2)"/>
<g transform="translate(24.9,181.2)"><use href="#rays"/><circle r="6.9" fill="url(#sun)"/></g>
<rect x="12.2" y="193.2" width="25.4" height="24.2" fill="url(#skyr)"/>
<g transform="translate(13,191.5) scale(0.95,0.9)"><use href="#cloud"/></g>
<g fill="#d6ebff"><ellipse cx="20" cy="211.5" rx="0.8" ry="1.4"/><ellipse cx="24.5" cy="213" rx="0.8" ry="1.4"/><ellipse cx="29" cy="211.5" rx="0.8" ry="1.4"/></g>
<rect x="12.2" y="218.8" width="25.4" height="24.2" fill="url(#sky2)"/>
<g transform="translate(22.6,228.3) scale(0.85)"><use href="#rays"/><circle r="6.9" fill="url(#sun)"/></g>
<g transform="translate(16.8,225.5) scale(0.82,0.8)"><use href="#cloud"/></g>
<rect x="12.2" y="245.2" width="25.4" height="26" fill="url(#sky2)"/>
<g transform="translate(25.5,255) scale(0.8)"><use href="#rays"/><circle r="6.9" fill="url(#sun)"/></g>
<g transform="translate(12.7,246.5) scale(0.8,0.85)"><use href="#cloud"/></g>
<g transform="translate(15.7,252.5) scale(0.85,0.85)"><use href="#cloud"/></g>
<rect x="12.2" y="275.8" width="25.4" height="24.8" fill="url(#skyr)"/>
<g transform="translate(12.8,272.5) scale(0.95,0.92)"><use href="#cloud"/></g>
<g fill="#cfe6ff"><ellipse cx="17" cy="294" rx="0.8" ry="1.3"/><ellipse cx="20.5" cy="293" rx="0.8" ry="1.3"/><ellipse cx="24" cy="294.5" rx="0.8" ry="1.3"/><ellipse cx="27.5" cy="293" rx="0.8" ry="1.3"/><ellipse cx="31" cy="294.5" rx="0.8" ry="1.3"/><ellipse cx="19" cy="297.5" rx="0.8" ry="1.3"/><ellipse cx="23" cy="297" rx="0.8" ry="1.3"/><ellipse cx="27" cy="297.5" rx="0.8" ry="1.3"/><ellipse cx="31.5" cy="297.5" rx="0.8" ry="1.3"/></g>
<rect x="12.2" y="305.4" width="25.4" height="26.6" fill="url(#storm)"/>
<g transform="translate(13,301.5) scale(0.95,0.92)"><use href="#cloud"/></g>
<polygon points="25.5,320.5 28,320.5 26.3,324.5 28.4,324.5 23.6,331 25,326 23.2,326" fill="#f6e21c"/>
<text x="46.2" y="157.1" font-family="Liberation Serif, serif" font-weight="bold" font-size="10" fill="#111">Nublado</text>
<text x="46.2" y="180.8" font-family="Liberation Serif, serif" font-weight="bold" font-size="10" fill="#111">Predomínio de sol</text>
<text x="46.2" y="208.4" font-family="Liberation Serif, serif" font-weight="bold" font-size="10" fill="#111">Pancadas de chuva</text>
<text x="46.2" y="235" font-family="Liberation Serif, serif" font-weight="bold" font-size="10" fill="#111">Sol entre nuvens</text>
<text x="46.2" y="262.3" font-family="Liberation Serif, serif" font-weight="bold" font-size="10" fill="#111">Parcialmente nublado</text>
<text x="46.2" y="291.9" font-family="Liberation Serif, serif" font-weight="bold" font-size="10" fill="#111">Chuva</text>
<text x="46.2" y="320.8" font-family="Liberation Serif, serif" font-weight="bold" font-size="10" fill="#111">Tempestade</text>
<text x="12.3" y="493" font-family="Liberation Serif, serif" font-weight="bold" font-size="14.5" fill="#111" textLength="129" lengthAdjust="spacingAndGlyphs">www.cemtec.ms.gov.br</text>
<text x="13.2" y="509" font-family="Liberation Serif, serif" font-weight="bold" font-size="9.4" fill="#111" textLength="130" lengthAdjust="spacingAndGlyphs">Localização meramente ilustrativa</text>
<rect x="120" y="530" width="35.1" height="14.8" fill="#ffff33"/>
<rect x="120" y="544.8" width="35.1" height="15.5" fill="#b39ed2"/>
<rect x="120" y="560.3" width="35.1" height="14.9" fill="#7aaee6"/>
<rect x="120" y="575.2" width="35.1" height="15.3" fill="#78c24e"/>
<line x1="10.6" y1="515" x2="155.1" y2="515" stroke="#262626" stroke-width="0.95"/>
<line x1="10.6" y1="530" x2="155.1" y2="530" stroke="#262626" stroke-width="0.95"/>
<line x1="10.6" y1="544.8" x2="155.1" y2="544.8" stroke="#262626" stroke-width="0.95"/>
<line x1="10.6" y1="560.3" x2="155.1" y2="560.3" stroke="#262626" stroke-width="0.95"/>
<line x1="10.6" y1="575.2" x2="155.1" y2="575.2" stroke="#262626" stroke-width="0.95"/>
<line x1="10.6" y1="590.5" x2="155.1" y2="590.5" stroke="#262626" stroke-width="0.95"/>
<line x1="10.6" y1="515" x2="10.6" y2="590.5" stroke="#262626" stroke-width="0.95"/>
<line x1="120" y1="515" x2="120" y2="590.5" stroke="#262626" stroke-width="0.95"/>
<line x1="155.1" y1="515" x2="155.1" y2="590.5" stroke="#262626" stroke-width="0.95"/>
<text x="13.2" y="526" font-family="Liberation Sans, sans-serif" font-weight="bold" font-size="10.3" fill="#222" textLength="40.2" lengthAdjust="spacingAndGlyphs">Legenda</text>
<text x="122.4" y="526.6" font-family="Liberation Sans, sans-serif" font-weight="bold" font-size="9.4" fill="#222" textLength="25.6" lengthAdjust="spacingAndGlyphs">Cores</text>
<text x="13.1" y="541.7" font-family="Liberation Sans, sans-serif" font-size="10.3" fill="#333" textLength="63.4" lengthAdjust="spacingAndGlyphs">Centro - Norte</text>
<text x="13.1" y="556.6" font-family="Liberation Sans, sans-serif" font-size="10.3" fill="#333" textLength="25.2" lengthAdjust="spacingAndGlyphs">Leste</text>
<text x="13.1" y="572" font-family="Liberation Sans, sans-serif" font-size="10.3" fill="#333" textLength="45.4" lengthAdjust="spacingAndGlyphs">Sudoeste</text>
<text x="13.1" y="586.7" font-family="Liberation Sans, sans-serif" font-size="10.3" fill="#333" textLength="45.4" lengthAdjust="spacingAndGlyphs">Pantanais</text>
<text x="264.2" y="532" font-family="Liberation Serif, serif" font-size="11" fill="#222" textLength="317.2" lengthAdjust="spacingAndGlyphs"><tspan font-weight="bold">Fonte:</tspan> INMET – CPTEC/INPE | <tspan font-weight="bold">Elaboração:</tspan> CEMTEC/MS-Semagro</text>
<text x="322" y="557.8" font-family="Liberation Serif, serif" font-size="11" fill="#222" textLength="186.8" lengthAdjust="spacingAndGlyphs"><tspan font-weight="bold">Realizado:</tspan> 23 de junho de 2020 às 13h45</text>
<text x="397.5" y="579.3" font-family="Liberation Serif, serif" font-weight="bold" font-size="8.9" fill="#222" textLength="73.8" lengthAdjust="spacingAndGlyphs">Sujeito a alterações</text>
<g transform="translate(709.3,463.2) rotate(-1)">
<circle r="43.6" fill="none" stroke="#2a2a2c" stroke-width="1.5"/>
<g transform="rotate(45)"><polygon points="0,0 -4.1,-4.1 0,-39.5" fill="#c9c9cf"/><polygon points="0,0 4.1,-4.1 0,-39.5" fill="#2a2a2e"/></g><g transform="rotate(135)"><polygon points="0,0 -4.1,-4.1 0,-39.5" fill="#c9c9cf"/><polygon points="0,0 4.1,-4.1 0,-39.5" fill="#2a2a2e"/></g><g transform="rotate(225)"><polygon points="0,0 -4.1,-4.1 0,-39.5" fill="#c9c9cf"/><polygon points="0,0 4.1,-4.1 0,-39.5" fill="#2a2a2e"/></g><g transform="rotate(315)"><polygon points="0,0 -4.1,-4.1 0,-39.5" fill="#c9c9cf"/><polygon points="0,0 4.1,-4.1 0,-39.5" fill="#2a2a2e"/></g>
<g transform="rotate(0)"><polygon points="0,0 -5.7,-5.7 0,-48.5" fill="#c9c9cf"/><polygon points="0,0 5.7,-5.7 0,-48.5" fill="#2a2a2e"/></g><g transform="rotate(90)"><polygon points="0,0 -5.7,-5.7 0,-48.5" fill="#c9c9cf"/><polygon points="0,0 5.7,-5.7 0,-48.5" fill="#2a2a2e"/></g><g transform="rotate(180)"><polygon points="0,0 -5.7,-5.7 0,-48.5" fill="#c9c9cf"/><polygon points="0,0 5.7,-5.7 0,-48.5" fill="#2a2a2e"/></g><g transform="rotate(270)"><polygon points="0,0 -5.7,-5.7 0,-48.5" fill="#c9c9cf"/><polygon points="0,0 5.7,-5.7 0,-48.5" fill="#2a2a2e"/></g>
</g>
<text x="708.5" y="413.6" text-anchor="middle" font-family="Liberation Sans, sans-serif" font-weight="bold" font-size="11.5" fill="#de3c4c">N</text>
<text x="710.3" y="523.8" text-anchor="middle" font-family="Liberation Sans, sans-serif" font-weight="bold" font-size="11.5" fill="#de3c4c">S</text>
<text x="654.4" y="468.4" text-anchor="middle" font-family="Liberation Sans, sans-serif" font-weight="bold" font-size="11.5" fill="#de3c4c">O</text>
<text x="763.4" y="466.8" text-anchor="middle" font-family="Liberation Sans, sans-serif" font-weight="bold" font-size="11.5" fill="#de3c4c">L</text>
<text x="672.5" y="433.4" text-anchor="middle" font-family="Liberation Sans, sans-serif" font-weight="bold" font-size="9.6" fill="#2ab4e2">NO</text>
<text x="745.8" y="432.9" text-anchor="middle" font-family="Liberation Sans, sans-serif" font-weight="bold" font-size="9.6" fill="#2ab4e2">NE</text>
<text x="675.2" y="502.3" text-anchor="middle" font-family="Liberation Sans, sans-serif" font-weight="bold" font-size="9.6" fill="#2ab4e2">SO</text>
<text x="746.8" y="500.6" text-anchor="middle" font-family="Liberation Sans, sans-serif" font-weight="bold" font-size="9.6" fill="#2ab4e2">SE</text>
<text x="651.5" y="572" text-anchor="end" font-family="Liberation Sans, sans-serif" font-weight="bold" font-size="10.6" fill="#2f9e52" textLength="57.8" lengthAdjust="spacingAndGlyphs">SEMAGRO</text>
<text x="651.5" y="577.9" text-anchor="end" font-family="Liberation Sans, sans-serif" font-size="4.4" fill="#3c9c5a" textLength="81" lengthAdjust="spacingAndGlyphs">Secretaria de Estado de Meio Ambiente,</text>
<text x="651.5" y="583.7" text-anchor="end" font-family="Liberation Sans, sans-serif" font-size="4.4" fill="#3c9c5a" textLength="59" lengthAdjust="spacingAndGlyphs">Desenvolvimento Econômico,</text>
<text x="651.5" y="589.5" text-anchor="end" font-family="Liberation Sans, sans-serif" font-size="4.4" fill="#3c9c5a" textLength="64" lengthAdjust="spacingAndGlyphs">Produção e Agricultura Familiar</text>
<rect x="668" y="557.8" width="44.8" height="36.8" fill="url(#graybox)"/>
<rect x="712.6" y="557.8" width="78.7" height="36.8" fill="url(#gbox)"/>
<rect x="712.6" y="592.6" width="78.7" height="2" fill="#167a36" opacity="0.55"/>
<text x="720.3" y="571.9" font-family="Liberation Sans, sans-serif" font-weight="bold" font-size="11.3" fill="#fff" textLength="50.4" lengthAdjust="spacingAndGlyphs">GOVERNO</text>
<text x="720.3" y="581.9" font-family="Liberation Sans, sans-serif" font-weight="bold" font-size="11.3" fill="#fff" textLength="57.2" lengthAdjust="spacingAndGlyphs">DO ESTADO</text>
<text x="720.3" y="590.9" font-family="Liberation Sans, sans-serif" font-weight="bold" font-size="6" fill="#f4fff6" textLength="57.2" lengthAdjust="spacingAndGlyphs">Mato Grosso do Sul</text>
<g transform="translate(689.8,576.6)"><path d="M-9.5,-6 Q-13.5,3 -7,12" fill="none" stroke="#4a8c3a" stroke-width="2.6" stroke-dasharray="1.7 0.7"/><path d="M9.5,-6 Q13.5,3 7,12" fill="none" stroke="#4a8c3a" stroke-width="2.6" stroke-dasharray="1.7 0.7"/><path d="M-9,-8 A9,9 0 0 1 9,-8 Z" fill="#f4cc22"/><g stroke="#f4cc22" stroke-width="1.1"><line x1="0" y1="-9" x2="0" y2="-15.5"/><line x1="-3" y1="-9" x2="-5" y2="-14.6"/><line x1="3" y1="-9" x2="5" y2="-14.6"/><line x1="-6" y1="-9" x2="-9.4" y2="-12.6"/><line x1="6" y1="-9" x2="9.4" y2="-12.6"/></g><path d="M-7.5,-8.5 H7.5 V3 Q7.5,9.5 0,12 Q-7.5,9.5 -7.5,3 Z" fill="#2b66b4" stroke="#d9b92a" stroke-width="0.9"/><path d="M-6.6,0 H6.6 V3 Q6.6,8.6 0,11 Q-6.6,8.6 -6.6,3 Z" fill="#3f9d48"/><ellipse cx="0" cy="3.4" rx="3.4" ry="2.3" fill="#f2d43c"/><path d="M-10,11.5 Q0,16 10,11.5 L9,14.4 Q0,18.6 -9,14.4 Z" fill="#2a5ba8"/></g>
</svg>
</body></html>
